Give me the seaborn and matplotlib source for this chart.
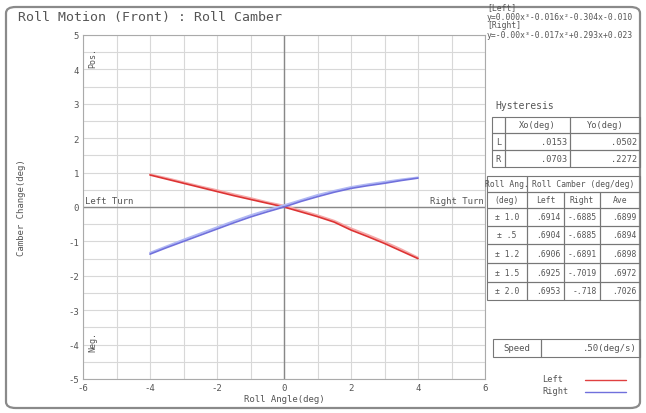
import numpy as np
import pandas as pd
import matplotlib
matplotlib.use("Agg")
import matplotlib.pyplot as plt
from matplotlib.patches import FancyBboxPatch, Rectangle
import seaborn as sns

# ---------------- data ----------------
roll_angle = [-4.0, -3.5, -3.0, -2.5, -2.0, -1.5, -1.0, -0.5, 0.0,
              0.5, 1.0, 1.5, 2.0, 2.5, 3.0, 3.5, 4.0]
left_out = [0.93, 0.81, 0.69, 0.57, 0.45, 0.33, 0.22, 0.11, 0.00,
            -0.14, -0.28, -0.44, -0.67, -0.86, -1.06, -1.28, -1.50]
left_back = [0.95, 0.84, 0.72, 0.60, 0.49, 0.37, 0.26, 0.14, 0.04,
             -0.10, -0.24, -0.40, -0.62, -0.81, -1.01, -1.23, -1.47]
right_out = [-1.37, -1.18, -1.00, -0.82, -0.64, -0.46, -0.29, -0.14, 0.00,
             0.16, 0.30, 0.43, 0.54, 0.62, 0.69, 0.77, 0.84]
right_back = [-1.33, -1.14, -0.95, -0.77, -0.59, -0.41, -0.24, -0.09, 0.05,
              0.20, 0.35, 0.47, 0.58, 0.66, 0.73, 0.80, 0.86]

eq_left = "y=0.000x³-0.016x²-0.304x-0.010"
eq_right = "y=-0.00x³-0.017x²+0.293x+0.023"

hyst_cols = ["", "Xo(deg)", "Yo(deg)"]
hyst_rows = ["L", "R"]
hyst_xo = [".0153", ".0703"]
hyst_yo = [".0502", ".2272"]

ratio_range = ["± 1.0", "± .5", "± 1.2", "± 1.5", "± 2.0"]
ratio_left = [".6914", ".6904", ".6906", ".6925", ".6953"]
ratio_right = ["-.6885", "-.6885", "-.6891", "-.7019", "-.718"]
ratio_ave = [".6899", ".6894", ".6898", ".6972", ".7026"]

speed_txt = ".50(deg/s)"

x_ticks = [-6, -4, -2, 0, 2, 4, 6]
y_ticks = [-5, -4, -3, -2, -1, 0, 1, 2, 3, 4, 5]

# ---------------- style ----------------
sns.set_theme(style="white")
plt.rcParams['font.family'] = ['DejaVu Sans Mono', 'DejaVu Sans']
TXT = "#555555"
GRID = "#d8d8d8"

W, H = 646, 414
fig = plt.figure(figsize=(W / 100, H / 100), dpi=100)
fig.patch.set_facecolor("white")

def fx(px):
    return px / W

def fy(py):
    return 1 - py / H

# outer rounded frame
frame = FancyBboxPatch((fx(6), fy(409)), fx(634), 401 / H,
                       boxstyle="round,pad=0,rounding_size=0.015",
                       transform=fig.transFigure, fill=False,
                       edgecolor="#8a8a8a", linewidth=1.6)
fig.patches.append(frame)

fig.text(fx(18), fy(18), "Roll Motion (Front) : Roll Camber", fontsize=9.5,
         color=TXT, va="center", ha="left")

# ---------------- main axes ----------------
ax = fig.add_axes([fx(83), fy(380), fx(485) - fx(83), (380 - 36) / H])
ax.set_xlim(-6, 6)
ax.set_ylim(-5, 5)
ax.set_xticks(x_ticks)
ax.set_yticks(y_ticks)
ax.set_xticks(np.arange(-5, 6, 2), minor=True)
ax.set_yticks(np.arange(-4.5, 5, 1.0), minor=True)
ax.grid(which="both", color=GRID, linewidth=0.8)
ax.set_axisbelow(True)
ax.set_xticklabels([str(t) for t in x_ticks])
ax.set_yticklabels([str(t) for t in y_ticks])
ax.tick_params(axis="both", which="both", labelsize=6.5, colors=TXT, length=0, pad=3)
for s in ax.spines.values():
    s.set_color("#aaaaaa")
    s.set_linewidth(0.8)
ax.axhline(0, color="#888888", linewidth=1.0, zorder=1)
ax.axvline(0, color="#888888", linewidth=1.0, zorder=1)

traces = [
    (left_back, "#f5a8a8", 1.4),
    (left_out, "#dd3333", 1.2),
    (right_back, "#b0b8f4", 1.4),
    (right_out, "#7070dc", 1.2),
]
for vals, col, lw in traces:
    d = pd.DataFrame({"x": roll_angle, "y": vals})
    sns.lineplot(data=d, x="x", y="y", ax=ax, color=col, linewidth=lw,
                 sort=False, estimator=None, legend=False)
ax.set_xlabel("Roll Angle(deg)", fontsize=6.5, color=TXT, labelpad=1)
ax.set_ylabel("Camber Change(deg)", fontsize=6.5, color=TXT, labelpad=30)

ax.text(-5.95, 0.05, "Left Turn", fontsize=6.5, color=TXT, ha="left", va="bottom")
ax.text(5.95, 0.05, "Right Turn", fontsize=6.5, color=TXT, ha="right", va="bottom")
ax.text(-5.85, 4.35, "Pos.", fontsize=6, color=TXT, rotation=90, ha="left", va="center")
ax.text(-5.85, -3.9, "Neg.", fontsize=6, color=TXT, rotation=90, ha="left", va="center")

# ---------------- right panel ----------------
fig.text(fx(487), fy(8), "[Left]", fontsize=5.8, color=TXT, va="center")
fig.text(fx(487), fy(17), eq_left, fontsize=5.8, color=TXT, va="center")
fig.text(fx(487), fy(26), "[Right]", fontsize=5.8, color=TXT, va="center")
fig.text(fx(487), fy(35), eq_right, fontsize=5.8, color=TXT, va="center")

fig.text(fx(495), fy(106), "Hysteresis", fontsize=7, color=TXT, va="center")


def draw_table(x0, y0, col_edges, row_edges, cells, fs=6.2):
    """col_edges / row_edges in pixel offsets; cells: list of (r, c0, c1, text, ha)."""
    for (r, c0, c1, txt, ha) in cells:
        xa = x0 + col_edges[c0]
        xb = x0 + col_edges[c1]
        ya = y0 + row_edges[r]
        yb = y0 + row_edges[r + 1]
        fig.patches.append(Rectangle((fx(xa), fy(yb)), fx(xb - xa), (yb - ya) / H,
                                     transform=fig.transFigure, fill=False,
                                     edgecolor="#777777", linewidth=0.8))
        if ha == "right":
            tx = xb - 3
        elif ha == "left":
            tx = xa + 3
        else:
            tx = (xa + xb) / 2
        fig.text(fx(tx), fy((ya + yb) / 2), txt, fontsize=fs, color=TXT,
                 ha=ha, va="center")


# hysteresis table
hcells = []
for c, t in enumerate(hyst_cols):
    hcells.append((0, c, c + 1, t, "center"))
for r in range(2):
    hcells.append((r + 1, 0, 1, hyst_rows[r], "center"))
    hcells.append((r + 1, 1, 2, hyst_xo[r], "right"))
    hcells.append((r + 1, 2, 3, hyst_yo[r], "right"))
draw_table(492, 118, [0, 13, 78, 148], [0, 16, 33, 50], hcells)

# roll camber table
rcells = [(0, 0, 1, "Roll Ang.", "center"),
          (0, 1, 4, "Roll Camber (deg/deg)", "center"),
          (1, 0, 1, "(deg)", "center"),
          (1, 1, 2, "Left", "center"),
          (1, 2, 3, "Right", "center"),
          (1, 3, 4, "Ave", "center")]
for r in range(5):
    rcells.append((r + 2, 0, 1, ratio_range[r], "center"))
    rcells.append((r + 2, 1, 2, ratio_left[r], "right"))
    rcells.append((r + 2, 2, 3, ratio_right[r], "right"))
    rcells.append((r + 2, 3, 4, ratio_ave[r], "right"))
draw_table(487, 177, [0, 40, 77, 113, 153],
           [0, 16, 32, 50, 68, 87, 106, 124], rcells, fs=5.8)

# speed box
draw_table(493, 340, [0, 48, 147], [0, 18],
           [(0, 0, 1, "Speed", "center"), (0, 1, 2, speed_txt, "right")], fs=6.5)

# legend
fig.text(fx(542), fy(380), "Left", fontsize=6.2, color=TXT, va="center")
fig.text(fx(542), fy(392), "Right", fontsize=6.2, color=TXT, va="center")
fig.lines.append(plt.Line2D([fx(585), fx(626)], [fy(381), fy(381)],
                            transform=fig.transFigure, color="#e04040", linewidth=1.0))
fig.lines.append(plt.Line2D([fx(585), fx(626)], [fy(393), fy(393)],
                            transform=fig.transFigure, color="#7070dc", linewidth=1.0))

fig.savefig("out.png", dpi=100)
